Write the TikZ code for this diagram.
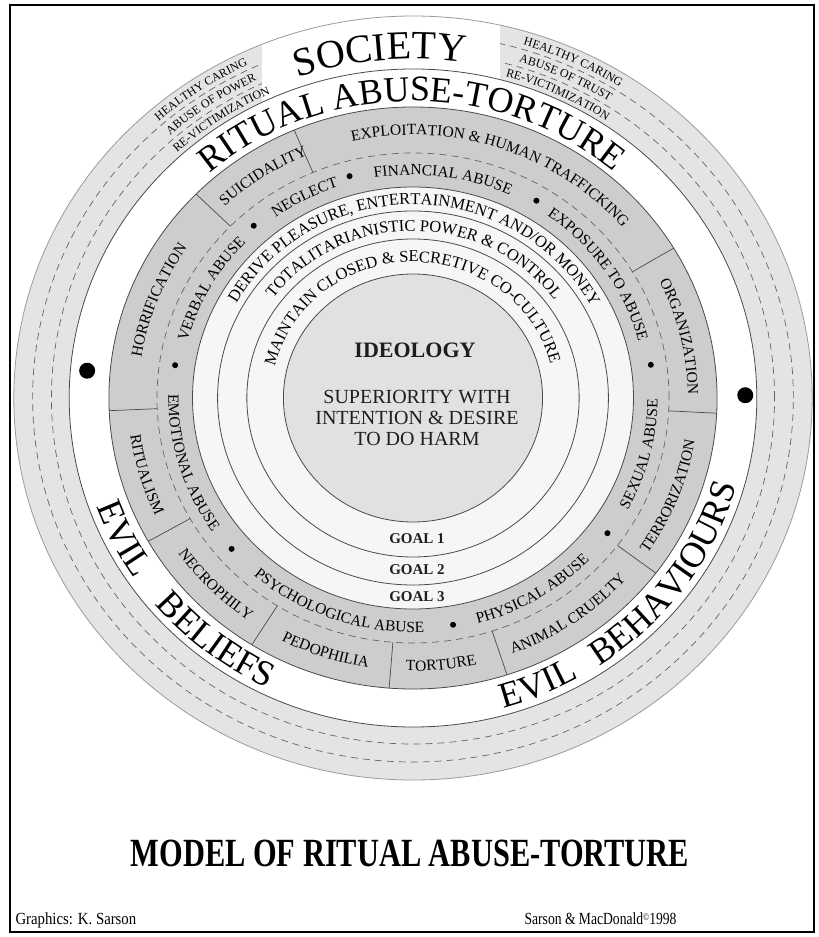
\documentclass[tikz,border=0pt]{standalone}
\usepackage{fontspec}
\setmainfont{Liberation Serif}
\usepackage{graphicx}
\usepackage{tikz}
\usetikzlibrary{decorations.text}
\definecolor{ringlight}{HTML}{E4E4E4}
\definecolor{ringdark}{HTML}{CDCDCD}
\definecolor{goalfill}{HTML}{F6F6F6}
\definecolor{ideofill}{HTML}{E1E1E1}
\definecolor{edgeline}{HTML}{4A4A4A}
\definecolor{inkdark}{HTML}{1E1E1E}
\tikzset{
  rline/.style={draw=edgeline,line width=0.8pt},
  rdash/.style={draw=edgeline!85,line width=0.7pt,dash pattern=on 7pt off 5pt},
  rdiv/.style={draw=edgeline,line width=0.7pt},
  ideo/.style={align=center,text=inkdark}
}
\newcommand{\xf}{1.045}
% text on an arc, read clockwise (upper half) or counter-clockwise (lower half)
\newcommand{\cwtext}[4]{%
  \path[decorate,decoration={text along path,text align=center,
    text={|\fontsize{#3}{#3}\selectfont|#4}}]
    ({#2+90}:{\xf*#1} and {#1}) arc[start angle={#2+90},end angle={#2-90},x radius={\xf*#1},y radius={#1}];}
\newcommand{\ccwtext}[4]{%
  \path[decorate,decoration={text along path,text align=center,
    text={|\fontsize{#3}{#3}\selectfont|#4}}]
    ({#2-90}:{\xf*#1} and {#1}) arc[start angle={#2-90},end angle={#2+90},x radius={\xf*#1},y radius={#1}];}

\begin{document}
\begin{tikzpicture}[x=1pt,y=1pt]
  \useasboundingbox (-413,-539) rectangle (406,398);
  % rings, from the outside in
  \fill[ringlight] (0,0) ellipse[x radius={\xf*382},y radius=382];
  \draw[rdash] (0,0) ellipse[x radius={\xf*364},y radius=364];
  \draw[rdash] (0,0) ellipse[x radius={\xf*346},y radius=346];
  \begin{scope}
    \clip (0,0) ellipse[x radius={\xf*382},y radius=382];
    \fill[white] (-151,290) rectangle (87,400);
  \end{scope}
  \fill[white] (0,0) ellipse[x radius={\xf*329},y radius=329];
  \fill[ringdark] (0,0) ellipse[x radius={\xf*291},y radius=291];
  \fill[goalfill] (0,0) ellipse[x radius={\xf*211},y radius=211];
  \fill[ideofill] (0,0) ellipse[x radius={\xf*124},y radius=124];
  \draw[rline,draw=edgeline!55] (0,0) ellipse[x radius={\xf*382},y radius=382];
  \foreach \r in {329,291,211,187,159,124}
    \draw[rline] (0,0) ellipse[x radius={\xf*\r},y radius=\r];
  \draw[rdash] (0,0) ellipse[x radius={\xf*245},y radius=245];
  \foreach \a in {113,31,-3,-37,-72,-94.5,-122,-150.5,182.5,135.5}
    \draw[rdiv] (\a:{\xf*245} and 245) -- (\a:{\xf*291} and 291);
  \foreach \a in {131.5,105.3,59.1,8.3,-36,-80.4,221,171.8}
    \fill (\a:{\xf*230} and 230) circle[radius=3];
  \fill (175:{\xf*313} and 313) circle[radius=8];
  \fill (0.5:{\xf*318} and 318) circle[radius=8];

  % society
  \cwtext{339}{95.5}{40}{SOCIETY}
  \cwtext{368.5}{124.5}{12}{HEALTHY CARING}
  \cwtext{351}{124.5}{12}{ABUSE OF POWER}
  \cwtext{333.5}{124.5}{12}{RE-VICTIMIZATION}
  \cwtext{368.5}{64.5}{12}{HEALTHY CARING}
  \cwtext{351}{64.5}{12}{ABUSE OF TRUST}
  \cwtext{333.5}{64.5}{12}{RE-VICTIMIZATION}
  \cwtext{297}{90.3}{36}{RITUAL ABUSE-TORTURE}
  \ccwtext{322}{206}{36}{EVIL}
  \ccwtext{322}{231}{36}{BELIEFS}
  \ccwtext{322}{293.5}{36}{EVIL}
  \ccwtext{322}{324.9}{36}{BEHAVIOURS}

  % evil beliefs and behaviours
  \cwtext{263}{124}{15.5}{SUICIDALITY}
  \cwtext{263}{71}{15.5}{EXPLOITATION {\&} HUMAN TRAFFICKING}
  \cwtext{263}{13}{15.5}{ORGANIZATION}
  \ccwtext{273}{-21}{15.5}{TERRORIZATION}
  \ccwtext{273}{-54.5}{15.5}{ANIMAL CRUELTY}
  \ccwtext{273}{-84}{15.5}{TORTURE}
  \ccwtext{273}{251}{15.5}{PEDOPHILIA}
  \ccwtext{273}{223.5}{15.5}{NECROPHILY}
  \ccwtext{273}{196}{15.5}{RITUALISM}
  \cwtext{263}{159}{15.5}{HORRIFICATION}

  % abuses
  \cwtext{223}{118.4}{15.5}{NEGLECT}
  \cwtext{223}{82.2}{15.5}{FINANCIAL ABUSE}
  \cwtext{223}{33.7}{15.5}{EXPOSURE TO ABUSE}
  \ccwtext{234}{-13.9}{15.5}{SEXUAL ABUSE}
  \ccwtext{234}{-58.2}{15.5}{PHYSICAL ABUSE}
  \ccwtext{234}{250.3}{15.5}{PSYCHOLOGICAL ABUSE}
  \ccwtext{234}{196.4}{15.5}{EMOTIONAL ABUSE}
  \cwtext{223}{151.6}{15.5}{VERBAL ABUSE}

  % goals
  \cwtext{193.5}{89.5}{16.5}{DERIVE PLEASURE, ENTERTAINMENT AND/OR MONEY}
  \cwtext{167}{89.5}{16.5}{TOTALITARIANISTIC POWER {\&} CONTROL}
  \cwtext{136}{90.5}{16.5}{MAINTAIN CLOSED {\&} SECRETIVE CO-CULTURE}
  \node[ideo,font=\bfseries\fontsize{15}{15}\selectfont] (goal1) at (4,-141) {GOAL 1};
  \node[ideo,font=\bfseries\fontsize{15}{15}\selectfont] (goal2) at (4,-172) {GOAL 2};
  \node[ideo,font=\bfseries\fontsize{15}{15}\selectfont] (goal3) at (4,-199) {GOAL 3};

  \node[ideo,font=\bfseries\fontsize{22}{22}\selectfont] (ideology) at (2,48) {IDEOLOGY};
  \node[ideo,font=\fontsize{20}{21}\selectfont] (ideotext) at (4,-20)
    {SUPERIORITY WITH\\INTENTION \& DESIRE\\TO DO HARM};

  \node[font=\bfseries\fontsize{40}{40}\selectfont] (title) at (-3,-455)
    {\scalebox{0.76}[1]{MODEL OF RITUAL ABUSE-TORTURE}};
  \node[anchor=base west,font=\fontsize{17}{17}\selectfont] (credit) at (-401,-526)
    {\scalebox{0.87}[1]{Graphics: K. Sarson}};
  \node[anchor=base east,font=\fontsize{17}{17}\selectfont] (copy) at (267,-526)
    {\scalebox{0.8}[1]{Sarson \& MacDonald{\fontsize{10}{10}\selectfont\raisebox{4pt}{\textcopyright}}1998}};

  \draw[line width=2.5pt] (-403,-534) rectangle (401,393);
\end{tikzpicture}
\end{document}
